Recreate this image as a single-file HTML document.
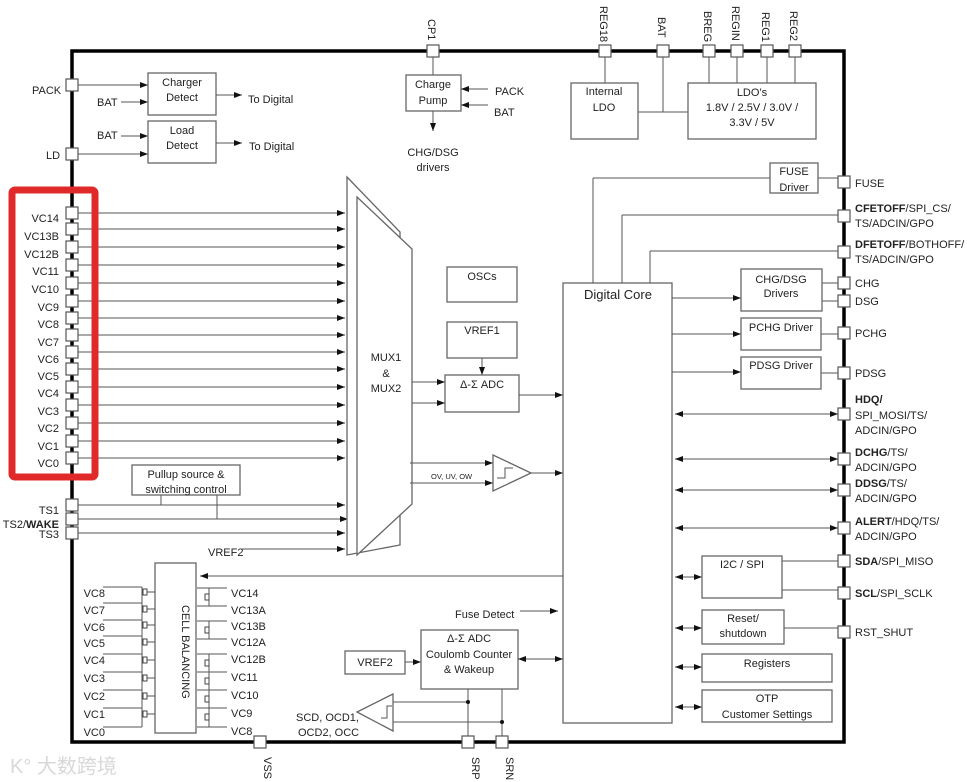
<!DOCTYPE html>
<html><head><meta charset="utf-8"><style>
html,body{margin:0;padding:0;background:#fff;}
svg{display:block;font-family:"Liberation Sans","Noto Sans CJK SC",sans-serif;}
text{font-size:11px;fill:#222;}
.b{fill:#fff;stroke:#666;stroke-width:1.3;}
.l{stroke:#555;stroke-width:1;fill:none;}
.p{fill:#fff;stroke:#555;stroke-width:1.2;}
</style></head><body>
<svg width="967" height="782" viewBox="0 0 967 782" xmlns="http://www.w3.org/2000/svg">
<defs>
<marker id="a" markerWidth="8" markerHeight="6" refX="8" refY="3" orient="auto" markerUnits="userSpaceOnUse"><path d="M0,0 L8,3 L0,6z" fill="#111"/></marker>
<marker id="s" markerWidth="8" markerHeight="6" refX="0" refY="3" orient="auto" markerUnits="userSpaceOnUse"><path d="M8,0 L0,3 L8,6z" fill="#111"/></marker>
</defs>
<rect x="72" y="51" width="772" height="691" fill="none" stroke="#000" stroke-width="3.5"/>

<g class="l">
<line x1="433" y1="57" x2="433" y2="75"/>
<line x1="605" y1="57" x2="605" y2="83"/>
<line x1="663" y1="57" x2="663" y2="112"/>
<line x1="638" y1="112" x2="688" y2="112"/>
<line x1="709" y1="57" x2="709" y2="83"/>
<line x1="737" y1="57" x2="737" y2="83"/>
<line x1="767" y1="57" x2="767" y2="83"/>
<line x1="795" y1="51" x2="795" y2="83"/>
</g>
<g class="p">
<rect x="427" y="45" width="12" height="12"/>
<rect x="599" y="45" width="12" height="12"/>
<rect x="657" y="45" width="12" height="12"/>
<rect x="703" y="45" width="12" height="12"/>
<rect x="731" y="45" width="12" height="12"/>
<rect x="761" y="45" width="12" height="12"/>
<rect x="789" y="45" width="12" height="12"/>
</g>
<g font-size="10">
<text transform="translate(428,19) rotate(90)" font-size="10">CP1</text>
<text transform="translate(600,6) rotate(90)" font-size="10">REG18</text>
<text transform="translate(658,17) rotate(90)" font-size="10">BAT</text>
<text transform="translate(704,11) rotate(90)" font-size="10">BREG</text>
<text transform="translate(732,6) rotate(90)" font-size="10">REGIN</text>
<text transform="translate(762,12) rotate(90)" font-size="10">REG1</text>
<text transform="translate(790,11) rotate(90)" font-size="10">REG2</text>
</g>

<line class="l" x1="78" y1="85" x2="148" y2="85" marker-end="url(#a)"/>
<line class="l" x1="121" y1="102" x2="148" y2="102" marker-end="url(#a)"/>
<line class="l" x1="121" y1="136" x2="148" y2="136" marker-end="url(#a)"/>
<line class="l" x1="78" y1="154" x2="148" y2="154" marker-end="url(#a)"/>
<rect class="b" x="148" y="73" width="68" height="42"/>
<rect class="b" x="148" y="121" width="68" height="42"/>
<line class="l" x1="216" y1="95" x2="242" y2="95" marker-end="url(#a)"/>
<line class="l" x1="216" y1="143" x2="242" y2="143" marker-end="url(#a)"/>
<text x="182" y="86" text-anchor="middle">Charger</text><text x="182" y="101" text-anchor="middle">Detect</text>
<text x="182" y="134" text-anchor="middle">Load</text><text x="182" y="149" text-anchor="middle">Detect</text>
<text x="248" y="103">To Digital</text><text x="249" y="150">To Digital</text>
<text x="97" y="106">BAT</text><text x="97" y="139">BAT</text>
<text x="32" y="94">PACK</text><text x="46" y="159">LD</text>
<rect class="p" x="66" y="79" width="12" height="12"/>
<rect class="p" x="66" y="148" width="12" height="12"/>

<rect class="b" x="406" y="75" width="55" height="36"/>
<text x="433" y="88" text-anchor="middle">Charge</text><text x="433" y="104" text-anchor="middle">Pump</text>
<line class="l" x1="488" y1="89" x2="461" y2="89" marker-end="url(#a)"/>
<line class="l" x1="488" y1="105" x2="461" y2="105" marker-end="url(#a)"/>
<text x="495" y="95">PACK</text><text x="494" y="116">BAT</text>
<line class="l" x1="433" y1="111" x2="433" y2="131" marker-end="url(#a)"/>
<text x="433" y="156" text-anchor="middle">CHG/DSG</text><text x="433" y="171" text-anchor="middle">drivers</text>

<rect class="b" x="571" y="83" width="67" height="56"/>
<text x="604" y="95" text-anchor="middle">Internal</text><text x="604" y="111" text-anchor="middle">LDO</text>
<rect class="b" x="688" y="83" width="128" height="56"/>
<text x="752" y="96" text-anchor="middle">LDO’s</text>
<text x="752" y="111" text-anchor="middle">1.8V / 2.5V / 3.0V /</text>
<text x="752" y="126" text-anchor="middle">3.3V / 5V</text>

<g class="l">
<line x1="78" y1="213" x2="345" y2="213" marker-end="url(#a)"/>
<line x1="78" y1="229" x2="345" y2="229" marker-end="url(#a)"/>
<line x1="78" y1="247" x2="345" y2="247" marker-end="url(#a)"/>
<line x1="78" y1="265" x2="345" y2="265" marker-end="url(#a)"/>
<line x1="78" y1="283" x2="345" y2="283" marker-end="url(#a)"/>
<line x1="78" y1="301" x2="345" y2="301" marker-end="url(#a)"/>
<line x1="78" y1="318" x2="345" y2="318" marker-end="url(#a)"/>
<line x1="78" y1="335" x2="345" y2="335" marker-end="url(#a)"/>
<line x1="78" y1="352" x2="345" y2="352" marker-end="url(#a)"/>
<line x1="78" y1="369" x2="345" y2="369" marker-end="url(#a)"/>
<line x1="78" y1="387" x2="345" y2="387" marker-end="url(#a)"/>
<line x1="78" y1="405" x2="345" y2="405" marker-end="url(#a)"/>
<line x1="78" y1="423" x2="345" y2="423" marker-end="url(#a)"/>
<line x1="78" y1="441" x2="345" y2="441" marker-end="url(#a)"/>
<line x1="78" y1="458" x2="345" y2="458" marker-end="url(#a)"/>
<line x1="78" y1="505" x2="345" y2="505" marker-end="url(#a)"/>
<line x1="78" y1="519" x2="348" y2="519" marker-end="url(#a)"/>
<line x1="78" y1="533" x2="345" y2="533" marker-end="url(#a)"/>
<line x1="242" y1="549" x2="345" y2="549" marker-end="url(#a)"/>
<line x1="161" y1="495" x2="161" y2="505"/>
<line x1="217" y1="495" x2="217" y2="519"/>
</g>
<g class="p">
<rect x="66" y="207" width="12" height="12"/><rect x="66" y="223" width="12" height="12"/>
<rect x="66" y="241" width="12" height="12"/><rect x="66" y="259" width="12" height="12"/>
<rect x="66" y="277" width="12" height="12"/><rect x="66" y="295" width="12" height="12"/>
<rect x="66" y="312" width="12" height="12"/><rect x="66" y="329" width="12" height="12"/>
<rect x="66" y="346" width="12" height="12"/><rect x="66" y="363" width="12" height="12"/>
<rect x="66" y="381" width="12" height="12"/><rect x="66" y="399" width="12" height="12"/>
<rect x="66" y="417" width="12" height="12"/><rect x="66" y="435" width="12" height="12"/>
<rect x="66" y="452" width="12" height="12"/>
<rect x="66" y="499" width="12" height="12"/><rect x="66" y="513" width="12" height="12"/>
<rect x="66" y="527" width="12" height="12"/>
</g>
<g text-anchor="end">
<text x="59" y="222">VC14</text><text x="59" y="240">VC13B</text><text x="59" y="258">VC12B</text>
<text x="59" y="275">VC11</text><text x="59" y="293">VC10</text><text x="59" y="311">VC9</text>
<text x="59" y="328">VC8</text><text x="59" y="346">VC7</text><text x="59" y="363">VC6</text>
<text x="59" y="380">VC5</text><text x="59" y="397">VC4</text><text x="59" y="415">VC3</text>
<text x="59" y="432">VC2</text><text x="59" y="450">VC1</text><text x="59" y="467">VC0</text>
<text x="59" y="514">TS1</text><text x="59" y="528">TS2/<tspan font-weight="bold">WAKE</tspan></text>
<text x="59" y="538">TS3</text>
</g>
<rect class="b" x="132" y="465" width="108" height="30"/>
<text x="186" y="478" text-anchor="middle">Pullup source &amp;</text>
<text x="186" y="493" text-anchor="middle">switching control</text>
<text x="208" y="556">VREF2</text>
<rect x="12" y="190" width="83" height="287" rx="3" fill="none" stroke="#e02a2a" stroke-width="7"/>

<polygon class="b" points="347,177 400,232 400,545 347,555"/>
<polygon class="b" points="357,197 412,249 412,504 357,555"/>
<text x="386" y="361" text-anchor="middle">MUX1</text>
<text x="386" y="377" text-anchor="middle">&amp;</text>
<text x="386" y="392" text-anchor="middle">MUX2</text>

<rect class="b" x="447" y="267" width="70" height="35"/>
<text x="482" y="280" text-anchor="middle">OSCs</text>
<rect class="b" x="447" y="322" width="70" height="36"/>
<text x="482" y="334" text-anchor="middle">VREF1</text>
<line class="l" x1="482" y1="358" x2="482" y2="375" marker-end="url(#a)"/>
<rect class="b" x="445" y="375" width="74" height="37"/>
<text x="482" y="388" text-anchor="middle">Δ-Σ  ADC</text>
<line class="l" x1="412" y1="382" x2="445" y2="382" marker-end="url(#a)"/>
<line class="l" x1="412" y1="403" x2="445" y2="403" marker-end="url(#a)"/>
<line class="l" x1="519" y1="395" x2="563" y2="395" marker-end="url(#a)"/>
<line class="l" x1="410" y1="463" x2="493" y2="463" marker-end="url(#a)"/>
<line class="l" x1="410" y1="483" x2="493" y2="483" marker-end="url(#a)"/>
<text x="431" y="479" font-size="7.5" style="font-size:7.5px">OV, UV, OW</text>
<polygon class="b" points="493,455 531,473 493,491"/>
<path class="l" d="M497,478 h8 v-10 h8"/>
<line class="l" x1="531" y1="473" x2="563" y2="473" marker-end="url(#a)"/>

<rect class="b" x="563" y="283" width="109" height="440"/>
<text x="618" y="299" text-anchor="middle" font-size="13" style="font-size:13px">Digital Core</text>
<g class="l">
<line x1="593" y1="283" x2="593" y2="178"/><line x1="593" y1="178" x2="770" y2="178"/>
<line x1="622" y1="283" x2="622" y2="215"/><line x1="622" y1="215" x2="838" y2="215"/>
<line x1="650" y1="283" x2="650" y2="251"/><line x1="650" y1="251" x2="838" y2="251"/>
<line x1="818" y1="178" x2="838" y2="178"/>
<line x1="672" y1="298" x2="741" y2="298" marker-end="url(#a)"/>
<line x1="672" y1="334" x2="741" y2="334" marker-end="url(#a)"/>
<line x1="672" y1="372" x2="741" y2="372" marker-end="url(#a)"/>
<line x1="822" y1="283" x2="838" y2="283"/><line x1="822" y1="301" x2="838" y2="301"/>
<line x1="821" y1="334" x2="838" y2="334"/><line x1="821" y1="373" x2="838" y2="373"/>
<line x1="675" y1="414" x2="838" y2="414" marker-start="url(#s)" marker-end="url(#a)"/>
<line x1="675" y1="459" x2="838" y2="459" marker-start="url(#s)" marker-end="url(#a)"/>
<line x1="675" y1="490" x2="838" y2="490" marker-start="url(#s)" marker-end="url(#a)"/>
<line x1="675" y1="528" x2="838" y2="528" marker-start="url(#s)" marker-end="url(#a)"/>
<line x1="675" y1="577" x2="702" y2="577" marker-start="url(#s)" marker-end="url(#a)"/>
<line x1="675" y1="628" x2="702" y2="628" marker-start="url(#s)" marker-end="url(#a)"/>
<line x1="675" y1="667" x2="702" y2="667" marker-start="url(#s)" marker-end="url(#a)"/>
<line x1="675" y1="707" x2="702" y2="707" marker-start="url(#s)" marker-end="url(#a)"/>
<line x1="782" y1="561" x2="838" y2="561"/><line x1="782" y1="590" x2="838" y2="590"/>
<line x1="784" y1="628" x2="838" y2="628"/>
<line x1="563" y1="576" x2="200" y2="576" marker-end="url(#a)"/>
<line x1="520" y1="611" x2="558" y2="611" marker-end="url(#a)"/>
</g>
<rect class="b" x="770" y="163" width="48" height="30"/>
<text x="794" y="175" text-anchor="middle">FUSE</text><text x="794" y="191" text-anchor="middle">Driver</text>
<rect class="b" x="741" y="269" width="81" height="42"/>
<text x="781" y="283" text-anchor="middle">CHG/DSG</text><text x="781" y="297" text-anchor="middle">Drivers</text>
<rect class="b" x="741" y="318" width="80" height="32"/>
<text x="781" y="331" text-anchor="middle">PCHG Driver</text>
<rect class="b" x="741" y="357" width="80" height="32"/>
<text x="781" y="369" text-anchor="middle">PDSG Driver</text>
<rect class="b" x="702" y="556" width="80" height="42"/>
<text x="742" y="568" text-anchor="middle">I2C / SPI</text>
<rect class="b" x="702" y="610" width="82" height="34"/>
<text x="743" y="622" text-anchor="middle">Reset/</text><text x="743" y="637" text-anchor="middle">shutdown</text>
<rect class="b" x="702" y="654" width="130" height="28"/>
<text x="767" y="667" text-anchor="middle">Registers</text>
<rect class="b" x="702" y="690" width="130" height="32"/>
<text x="767" y="702" text-anchor="middle">OTP</text><text x="767" y="718" text-anchor="middle">Customer Settings</text>

<g class="p">
<rect x="838" y="176" width="12" height="12"/><rect x="838" y="210" width="12" height="12"/>
<rect x="838" y="246" width="12" height="12"/><rect x="838" y="277" width="12" height="12"/>
<rect x="838" y="295" width="12" height="12"/><rect x="838" y="327" width="12" height="12"/>
<rect x="838" y="367" width="12" height="12"/><rect x="838" y="408" width="12" height="12"/>
<rect x="838" y="453" width="12" height="12"/><rect x="838" y="484" width="12" height="12"/>
<rect x="838" y="522" width="12" height="12"/><rect x="838" y="555" width="12" height="12"/>
<rect x="838" y="587" width="12" height="12"/><rect x="838" y="626" width="12" height="12"/>
</g>
<g>
<text x="855" y="187">FUSE</text>
<text x="855" y="212"><tspan font-weight="bold">CFETOFF</tspan>/SPI_CS/</text><text x="855" y="227">TS/ADCIN/GPO</text>
<text x="855" y="248"><tspan font-weight="bold">DFETOFF</tspan>/BOTHOFF/</text><text x="855" y="263">TS/ADCIN/GPO</text>
<text x="855" y="287">CHG</text><text x="855" y="305">DSG</text>
<text x="855" y="337">PCHG</text><text x="855" y="377">PDSG</text>
<text x="855" y="403" font-weight="bold">HDQ/</text><text x="855" y="419">SPI_MOSI/TS/</text><text x="855" y="434">ADCIN/GPO</text>
<text x="855" y="456"><tspan font-weight="bold">DCHG</tspan>/TS/</text><text x="855" y="471">ADCIN/GPO</text>
<text x="855" y="487"><tspan font-weight="bold">DDSG</tspan>/TS/</text><text x="855" y="502">ADCIN/GPO</text>
<text x="855" y="525"><tspan font-weight="bold">ALERT</tspan>/HDQ/TS/</text><text x="855" y="540">ADCIN/GPO</text>
<text x="855" y="565"><tspan font-weight="bold">SDA</tspan>/SPI_MISO</text>
<text x="855" y="597"><tspan font-weight="bold">SCL</tspan>/SPI_SCLK</text>
<text x="855" y="636">RST_SHUT</text>
</g>

<rect class="b" x="155" y="563" width="41" height="170"/>
<text transform="translate(182,605) rotate(90)">CELL BALANCING</text>
<g class="l">
<line x1="103" y1="587" x2="142" y2="587"/><line x1="103" y1="603" x2="142" y2="603"/>
<line x1="103" y1="620" x2="142" y2="620"/><line x1="103" y1="636" x2="142" y2="636"/>
<line x1="103" y1="654" x2="142" y2="654"/><line x1="103" y1="672" x2="142" y2="672"/>
<line x1="103" y1="690" x2="142" y2="690"/><line x1="103" y1="708" x2="142" y2="708"/>
<line x1="103" y1="727" x2="142" y2="727"/>
<line x1="142" y1="587" x2="142" y2="727"/>
<line x1="146" y1="592" x2="155" y2="592"/><line x1="146" y1="609" x2="155" y2="609"/>
<line x1="146" y1="625" x2="155" y2="625"/><line x1="146" y1="642" x2="155" y2="642"/>
<line x1="146" y1="660" x2="155" y2="660"/><line x1="146" y1="678" x2="155" y2="678"/>
<line x1="146" y1="696" x2="155" y2="696"/><line x1="146" y1="714" x2="155" y2="714"/>
<line x1="197" y1="588" x2="227" y2="588"/><line x1="197" y1="606" x2="227" y2="606"/>
<line x1="197" y1="621" x2="227" y2="621"/><line x1="197" y1="639" x2="227" y2="639"/>
<line x1="197" y1="654" x2="227" y2="654"/><line x1="197" y1="672" x2="227" y2="672"/>
<line x1="197" y1="690" x2="227" y2="690"/><line x1="197" y1="708" x2="227" y2="708"/>
<line x1="197" y1="727" x2="227" y2="727"/>
<line x1="209" y1="588" x2="209" y2="606"/><line x1="209" y1="621" x2="209" y2="639"/>
<line x1="209" y1="654" x2="209" y2="727"/>
</g>
<g fill="#fff" stroke="#444" stroke-width="1">
<rect x="143" y="589" width="4" height="6"/><rect x="143" y="606" width="4" height="6"/>
<rect x="143" y="622" width="4" height="6"/><rect x="143" y="639" width="4" height="6"/>
<rect x="143" y="657" width="4" height="6"/><rect x="143" y="675" width="4" height="6"/>
<rect x="143" y="693" width="4" height="6"/><rect x="143" y="711" width="4" height="6"/>
<rect x="205" y="594" width="4" height="6"/><rect x="205" y="627" width="4" height="6"/>
<rect x="205" y="660" width="4" height="6"/><rect x="205" y="678" width="4" height="6"/>
<rect x="205" y="696" width="4" height="6"/><rect x="205" y="714" width="4" height="6"/>
</g>
<g text-anchor="end">
<text x="105" y="597">VC8</text><text x="105" y="614">VC7</text><text x="105" y="631">VC6</text>
<text x="105" y="647">VC5</text><text x="105" y="664">VC4</text><text x="105" y="682">VC3</text>
<text x="105" y="700">VC2</text><text x="105" y="718">VC1</text><text x="105" y="736">VC0</text>
</g>
<g>
<text x="231" y="597">VC14</text><text x="231" y="614">VC13A</text><text x="231" y="630">VC13B</text>
<text x="231" y="646">VC12A</text><text x="231" y="663">VC12B</text><text x="231" y="681">VC11</text>
<text x="231" y="699">VC10</text><text x="231" y="717">VC9</text><text x="231" y="735">VC8</text>
</g>

<text x="455" y="618">Fuse Detect</text>
<rect class="b" x="345" y="651" width="60" height="23"/>
<text x="375" y="666" text-anchor="middle">VREF2</text>
<line class="l" x1="405" y1="662" x2="421" y2="662" marker-end="url(#a)"/>
<rect class="b" x="421" y="630" width="97" height="59"/>
<text x="469" y="642" text-anchor="middle">Δ-Σ ADC</text>
<text x="469" y="658" text-anchor="middle">Coulomb Counter</text>
<text x="469" y="673" text-anchor="middle">&amp; Wakeup</text>
<line class="l" x1="518" y1="659" x2="563" y2="659" marker-start="url(#s)" marker-end="url(#a)"/>
<g class="l">
<line x1="468" y1="689" x2="468" y2="736"/><line x1="502" y1="689" x2="502" y2="736"/>
<line x1="393" y1="702" x2="468" y2="702"/><line x1="393" y1="722" x2="502" y2="722"/>
</g>
<circle cx="468" cy="702" r="2" fill="#111"/><circle cx="502" cy="722" r="2" fill="#111"/>
<polygon class="b" points="393,694 357,712 393,731"/>
<path class="l" d="M381,718 h6 v-12 h5"/>
<text x="296" y="721">SCD, OCD1,</text><text x="298" y="736">OCD2, OCC</text>
<g class="p">
<rect x="254" y="736" width="12" height="12"/><rect x="462" y="736" width="12" height="12"/>
<rect x="496" y="736" width="12" height="12"/>
</g>
<g>
<text transform="translate(264,757) rotate(90)" font-size="10">VSS</text>
<text transform="translate(472,757) rotate(90)" font-size="10">SRP</text>
<text transform="translate(506,757) rotate(90)" font-size="10">SRN</text>
</g>
<text x="10" y="773" style="font-size:20px;fill:#d8d8d8">K° 大数跨境</text>
</svg>
</body></html>
